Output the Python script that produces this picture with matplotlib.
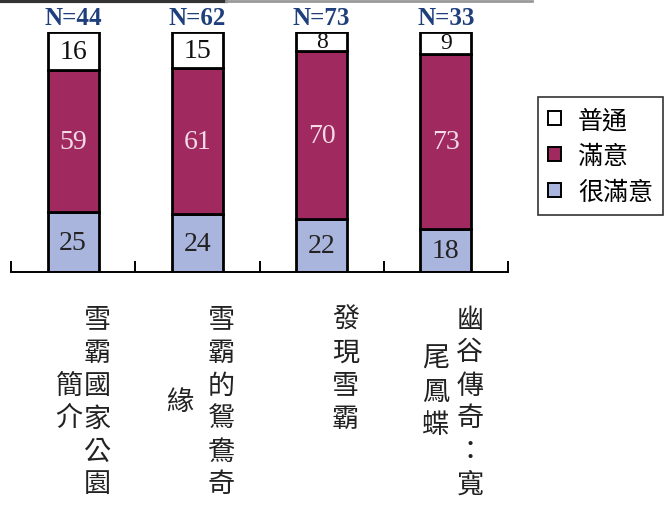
import matplotlib.pyplot as plt
from matplotlib.patches import Patch
from matplotlib.lines import Line2D
import numpy as np

plt.rcParams['font.family'] = ['Noto Sans CJK TC', 'DejaVu Sans']

# data
categories = ['雪霸國家公園簡介', '雪霸的鴛鴦奇緣', '發現雪霸', '幽谷傳奇：寬尾鳳蝶']
n_counts = [44, 62, 73, 33]
very_satisfied = [25, 24, 22, 18]
satisfied = [59, 61, 70, 73]
normal = [16, 15, 8, 9]
series_names = ['很滿意', '滿意', '普通']

# label columns (vertical text, right column first): text, row offset, x shift in px
label_columns = [
    [('雪霸國家公園', 0, 0), ('簡介', 2, -28)],
    [('雪霸的鴛鴦奇', 0, 0), ('緣', 2.5, -42)],
    [('發現雪霸', 0, 0)],
    [('幽谷傳奇：寬', 0, 0), ('尾鳳蝶', 1.2, -34)],
]

colors = ['#a9b5dc', '#a02a60', '#ffffff']
text_colors = ['#222222', '#f3dbe6', '#111111']

fig = plt.figure(figsize=(6.65, 5.06), dpi=100)
ax = fig.add_axes([11 / 665, 233 / 506, 497 / 665, 240 / 506])

x = np.arange(len(categories))
bottom = np.zeros(len(categories))
for vals, col, tcol, name in zip([very_satisfied, satisfied, normal], colors, text_colors, series_names):
    vals = np.array(vals, dtype=float)
    ax.bar(x, vals, width=0.41, bottom=bottom, color=col, edgecolor='black',
           linewidth=2.0, label=name, zorder=2)
    for xi, b, v in zip(x, bottom, vals):
        fs = 20 if v >= 12 else 17
        ax.text(xi, b + v / 2, f'{int(v)}', ha='center', va='center',
                fontsize=fs, color=tcol, family='Liberation Serif', zorder=3)
    bottom += vals

for xi, n in zip(x, n_counts):
    ax.annotate(f'N={n}', xy=(xi, 100), xytext=(0, 2), textcoords='offset points',
                ha='center', va='bottom', fontsize=18, fontweight='bold',
                color='#1f3f7c', family='Liberation Serif', annotation_clip=False)

ax.set_xlim(-0.5, len(categories) - 0.5)
ax.set_ylim(0, 100)
for s in ['left', 'right', 'top']:
    ax.spines[s].set_visible(False)
ax.spines['bottom'].set_linewidth(1.4)
ax.set_yticks([])
ax.set_xticks(np.arange(-0.5, len(categories), 1.0))
ax.set_xticklabels([])
ax.tick_params(axis='x', direction='in', length=8, width=1.4)

# vertical category labels
for xi, cols in zip(x, label_columns):
    for txt, row0, shift in cols:
        dx = 24 + shift
        for ri, ch in enumerate(txt):
            ax.annotate(ch, xy=(xi, 0), xytext=(dx * 0.72, -(47 + (row0 + ri) * 33) * 0.72),
                        textcoords='offset points', ha='center', va='center',
                        fontsize=19.5, fontweight='light', color='#222222',
                        annotation_clip=False)

handles = [Patch(facecolor=colors[i], edgecolor='black', linewidth=1.4) for i in [2, 1, 0]]
labels = [series_names[i] for i in [2, 1, 0]]
leg = fig.legend(handles, labels, loc='upper left', bbox_to_anchor=(538 / 665, 1 - 98 / 506),
                 fontsize=18, frameon=True, fancybox=False, edgecolor='black',
                 handlelength=0.5, handleheight=0.5, handletextpad=0.7,
                 borderpad=0.4, labelspacing=0.4, borderaxespad=0)
leg.get_frame().set_linewidth(1.2)

# scan edge at top
fig.add_artist(Line2D([0, 0.34], [0.996, 0.996], color='#333333', linewidth=3, transform=fig.transFigure))
fig.add_artist(Line2D([0.34, 0.8], [0.997, 0.997], color='#999999', linewidth=2, transform=fig.transFigure))

fig.savefig('out.png', dpi=100)
